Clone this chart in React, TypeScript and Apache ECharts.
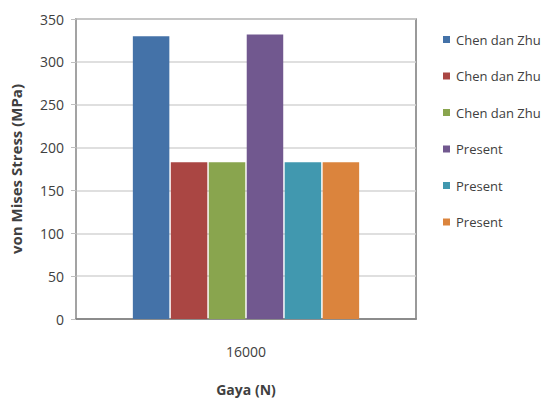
import React, { useEffect, useRef } from "react";
import * as echarts from "echarts";

// Load case on the category axis
const categories = ["16000"];

// Series (one bar each) and their legend labels
const seriesKeys = ["chen1", "chen2", "chen3", "present1", "present2", "present3"];
const seriesLabels = ["Chen dan Zhu", "Chen dan Zhu", "Chen dan Zhu", "Present", "Present", "Present"];
const seriesValues = [330, 183, 183, 332, 183, 183];
const seriesColors = ["#4472a8", "#aa4643", "#89a54e", "#71588f", "#4198af", "#db843d"];

// Value axis ticks
const yMin = 0;
const yMax = 350;
const yStep = 50;

const FONT = "'Open Sans', 'Noto Sans', sans-serif";

export default function App() {
  const ref = useRef<HTMLDivElement>(null);

  useEffect(() => {
    document.body.style.margin = "0";
    if (!ref.current) return;
    const chart = echarts.init(ref.current, undefined, { renderer: "svg" });

    const labelOf: Record<string, string> = {};
    seriesKeys.forEach((k, i) => (labelOf[k] = seriesLabels[i]));

    chart.setOption({
      animation: false,
      backgroundColor: "#ffffff",
      textStyle: { fontFamily: FONT },
      grid: {
        left: 75,
        top: 19,
        width: 341,
        height: 300,
        show: true,
        borderColor: "#7a7a7a",
        borderWidth: 1.5,
        backgroundColor: "transparent",
      },
      legend: {
        orient: "vertical",
        left: 438,
        top: 28,
        itemWidth: 7,
        itemHeight: 7,
        itemGap: 23.5,
        icon: "rect",
        data: seriesKeys,
        formatter: (name: string) => labelOf[name] ?? name,
        textStyle: { fontFamily: FONT, fontSize: 13, color: "#404040", padding: [0, 0, 0, 1] },
      },
      xAxis: {
        type: "category",
        data: categories,
        name: "Gaya (N)",
        nameLocation: "middle",
        nameGap: 63,
        nameTextStyle: { fontFamily: FONT, fontSize: 14, fontWeight: "bold", color: "#404040" },
        axisLine: { show: true, lineStyle: { color: "#7a7a7a", width: 1.5 } },
        axisTick: { show: false },
        axisLabel: { margin: 25, fontFamily: FONT, fontSize: 14, color: "#404040" },
      },
      yAxis: {
        type: "value",
        min: yMin,
        max: yMax,
        interval: yStep,
        name: "von Mises Stress (MPa)",
        nameLocation: "middle",
        nameGap: 53,
        nameTextStyle: { fontFamily: FONT, fontSize: 15, fontWeight: "bold", color: "#404040" },
        axisLine: { show: true, lineStyle: { color: "#a6a6a6", width: 1.5 } },
        axisTick: { show: true, length: 5, lineStyle: { color: "#bfbfbf" } },
        axisLabel: { margin: 12, fontFamily: FONT, fontSize: 14, color: "#404040" },
        splitLine: { show: true, lineStyle: { color: "#d4d4d4", width: 1.5 } },
      },
      series: seriesKeys.map((key, i) => ({
        type: "bar",
        name: key,
        data: [seriesValues[i]],
        barWidth: 36.5,
        barGap: "4%",
        itemStyle: { color: seriesColors[i] },
      })),
    });

    return () => chart.dispose();
  }, []);

  return <div ref={ref} style={{ width: 546, height: 403 }} />;
}
